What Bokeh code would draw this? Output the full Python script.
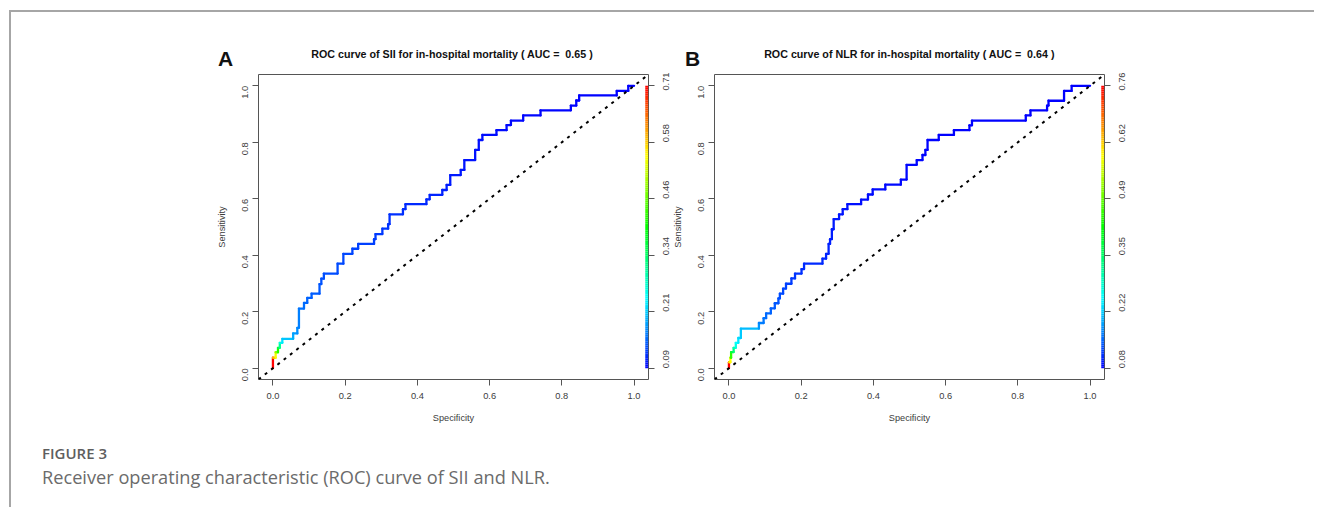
import colorsys
import numpy as np
from bokeh.plotting import figure
from bokeh.models import LinearAxis, FixedTicker, Range1d, Div, Slope, PrintfTickFormatter, ColumnDataSource
from bokeh.layouts import row, column
from bokeh.embed import file_html
from bokeh.resources import INLINE

# ---------------- data ----------------
spec_A = [0, 0, 0.0075, 0.0075, 0.014, 0.014, 0.019, 0.019, 0.026, 0.026,
          0.056, 0.056, 0.0675, 0.0675, 0.072, 0.072, 0.086, 0.086, 0.095, 0.095,
          0.107, 0.107, 0.129, 0.129, 0.134, 0.134, 0.141, 0.141, 0.179, 0.179,
          0.195, 0.195, 0.220, 0.220, 0.236, 0.236, 0.280, 0.280, 0.284, 0.284,
          0.303, 0.303, 0.319, 0.319, 0.323, 0.323, 0.360, 0.360, 0.367, 0.367,
          0.425, 0.425, 0.434, 0.434, 0.469, 0.469, 0.481, 0.481, 0.491, 0.491,
          0.520, 0.520, 0.530, 0.530, 0.560, 0.560, 0.570, 0.570, 0.580, 0.580,
          0.619, 0.619, 0.647, 0.647, 0.659, 0.659, 0.693, 0.693, 0.741, 0.741,
          0.825, 0.825, 0.840, 0.840, 0.848, 0.848, 0.952, 0.952, 0.984, 0.984, 1.0]
sens_A = [0, 0.037, 0.037, 0.0565, 0.0565, 0.072, 0.072, 0.090, 0.090, 0.104,
          0.104, 0.123, 0.123, 0.143, 0.143, 0.211, 0.211, 0.231, 0.231, 0.249,
          0.249, 0.264, 0.264, 0.298, 0.298, 0.317, 0.317, 0.335, 0.335, 0.370,
          0.370, 0.405, 0.405, 0.423, 0.423, 0.440, 0.440, 0.457, 0.457, 0.475,
          0.475, 0.494, 0.494, 0.510, 0.510, 0.545, 0.545, 0.563, 0.563, 0.581,
          0.581, 0.598, 0.598, 0.614, 0.614, 0.631, 0.631, 0.649, 0.649, 0.684,
          0.684, 0.702, 0.702, 0.737, 0.737, 0.773, 0.773, 0.808, 0.808, 0.826,
          0.826, 0.843, 0.843, 0.861, 0.861, 0.877, 0.877, 0.895, 0.895, 0.913,
          0.913, 0.930, 0.930, 0.948, 0.948, 0.966, 0.966, 0.982, 0.982, 1.0, 1.0]
cut_A = [0.71, 0.60, 0.55, 0.48, 0.42, 0.36, 0.31, 0.26, 0.23, 0.21,
         0.195, 0.185, 0.178, 0.172, 0.168, 0.160, 0.157, 0.154, 0.152, 0.150,
         0.148, 0.146, 0.144, 0.142, 0.140, 0.139, 0.138, 0.137, 0.136, 0.135,
         0.134, 0.133, 0.132, 0.131, 0.130, 0.129, 0.128, 0.127, 0.126, 0.125,
         0.124, 0.123, 0.122, 0.121, 0.120, 0.119, 0.118, 0.117, 0.116, 0.115,
         0.114, 0.113, 0.112, 0.111, 0.110, 0.109, 0.108, 0.107, 0.106, 0.105,
         0.104, 0.103, 0.102, 0.101, 0.100, 0.0995, 0.099, 0.0985, 0.098, 0.0975,
         0.097, 0.0965, 0.096, 0.0955, 0.095, 0.0945, 0.094, 0.0935, 0.093, 0.0925,
         0.092, 0.0918, 0.0916, 0.0914, 0.0912, 0.091, 0.0908, 0.0906, 0.0904, 0.0902, 0.09]

spec_B = [0, 0, 0.004, 0.004, 0.006, 0.006, 0.013, 0.013, 0.019, 0.019,
          0.026, 0.026, 0.033, 0.033, 0.083, 0.083, 0.096, 0.096, 0.103, 0.103,
          0.116, 0.116, 0.127, 0.127, 0.137, 0.137, 0.141, 0.141, 0.150, 0.150,
          0.158, 0.158, 0.173, 0.173, 0.183, 0.183, 0.201, 0.201, 0.208, 0.208,
          0.259, 0.259, 0.269, 0.269, 0.276, 0.276, 0.280, 0.280, 0.285, 0.285,
          0.290, 0.290, 0.305, 0.305, 0.315, 0.315, 0.328, 0.328, 0.366, 0.366,
          0.385, 0.385, 0.398, 0.398, 0.433, 0.433, 0.476, 0.476, 0.492, 0.492,
          0.520, 0.520, 0.536, 0.536, 0.544, 0.544, 0.550, 0.550, 0.581, 0.581,
          0.623, 0.623, 0.666, 0.666, 0.673, 0.673, 0.822, 0.822, 0.835, 0.835,
          0.881, 0.881, 0.885, 0.885, 0.928, 0.928, 0.949, 0.949, 1.0]
sens_B = [0, 0.021, 0.021, 0.037, 0.037, 0.057, 0.057, 0.072, 0.072, 0.090,
          0.090, 0.107, 0.107, 0.140, 0.140, 0.160, 0.160, 0.177, 0.177, 0.194,
          0.194, 0.212, 0.212, 0.230, 0.230, 0.247, 0.247, 0.264, 0.264, 0.282,
          0.282, 0.299, 0.299, 0.318, 0.318, 0.335, 0.335, 0.351, 0.351, 0.370,
          0.370, 0.388, 0.388, 0.405, 0.405, 0.440, 0.440, 0.457, 0.457, 0.492,
          0.492, 0.528, 0.528, 0.545, 0.545, 0.563, 0.563, 0.581, 0.581, 0.597,
          0.597, 0.615, 0.615, 0.633, 0.633, 0.650, 0.650, 0.668, 0.668, 0.720,
          0.720, 0.737, 0.737, 0.755, 0.755, 0.773, 0.773, 0.808, 0.808, 0.826,
          0.826, 0.843, 0.843, 0.860, 0.860, 0.877, 0.877, 0.895, 0.895, 0.913,
          0.913, 0.930, 0.930, 0.947, 0.947, 0.982, 0.982, 1.0, 1.0]
cut_B = [0.76, 0.62, 0.59, 0.50, 0.45, 0.38, 0.34, 0.30, 0.27, 0.25,
         0.235, 0.225, 0.215, 0.205, 0.18, 0.165, 0.16, 0.155, 0.152, 0.149,
         0.146, 0.143, 0.140, 0.138, 0.136, 0.134, 0.132, 0.130, 0.128, 0.126,
         0.124, 0.122, 0.120, 0.118, 0.116, 0.114, 0.112, 0.110, 0.109, 0.108,
         0.107, 0.106, 0.105, 0.104, 0.103, 0.102, 0.101, 0.100, 0.099, 0.098,
         0.097, 0.096, 0.095, 0.094, 0.093, 0.092, 0.091, 0.090, 0.0895, 0.089,
         0.0885, 0.088, 0.0875, 0.087, 0.0865, 0.086, 0.0855, 0.085, 0.0845, 0.084,
         0.0836, 0.0832, 0.0828, 0.0824, 0.082, 0.0818, 0.0816, 0.0814, 0.0812, 0.081,
         0.0809, 0.0808, 0.0807, 0.0806, 0.0805, 0.0804, 0.0803, 0.0802, 0.0801, 0.0801,
         0.0801, 0.0801, 0.08, 0.08, 0.08, 0.08, 0.08, 0.08, 0.08]

axis_ticks = [0.0, 0.2, 0.4, 0.6, 0.8, 1.0]
cb_labels_A = ["0.09", "0.21", "0.34", "0.46", "0.58", "0.71"]
cb_labels_B = ["0.08", "0.22", "0.35", "0.49", "0.62", "0.76"]
title_A = "ROC curve of SII for in-hospital mortality ( AUC =  0.65 )"
title_B = "ROC curve of NLR for in-hospital mortality ( AUC =  0.64 )"
caption_head = "FIGURE 3"
caption_text = "Receiver operating characteristic (ROC) curve of SII and NLR."

# ---------------- helpers ----------------
FONT = "Liberation Sans"
TXT = "#3c3c3c"


def rainbow(v):
    v = min(max(v, 0.0), 1.0)
    r, g, b = colorsys.hsv_to_rgb((1.0 - v) * 240.0 / 360.0, 1.0, 1.0)
    return "#%02x%02x%02x" % (int(round(r * 255)), int(round(g * 255)), int(round(b * 255)))


def make_panel(spec, sens, cut, cb_labels, ml, mr, transparent=False):
    p = figure(frame_width=390, frame_height=305,
               x_range=Range1d(-0.04, 1.04), y_range=Range1d(-0.04, 1.04),
               output_backend="svg", toolbar_location=None,
               min_border_left=ml, min_border_right=mr,
               min_border_top=2, min_border_bottom=50)
    p.xgrid.visible = False
    p.ygrid.visible = False
    p.outline_line_color = "#555555"
    p.outline_line_width = 1
    p.background_fill_color = "white"
    if transparent:
        p.border_fill_color = None
    else:
        p.border_fill_color = "white"

    def style_axis(ax):
        ax.ticker = FixedTicker(ticks=axis_ticks)
        ax.axis_line_color = None
        ax.major_tick_line_color = "#555555"
        ax.major_tick_out = 6
        ax.major_tick_in = 0
        ax.minor_tick_line_color = None
        ax.major_label_text_font = FONT
        ax.major_label_text_font_size = "9.3px"
        ax.major_label_text_color = TXT
        ax.axis_label_text_font = FONT
        ax.axis_label_text_font_size = "9.2px"
        ax.axis_label_text_font_style = "normal"
        ax.axis_label_text_color = TXT

    xa = p.xaxis[0]
    style_axis(xa)
    xa.formatter = PrintfTickFormatter(format="%.1f")
    xa.major_label_standoff = 7
    xa.axis_label = "Specificity"
    xa.axis_label_standoff = 11

    ya = p.yaxis[0]
    style_axis(ya)
    ya.formatter = PrintfTickFormatter(format="%.1f")
    ya.major_label_orientation = np.pi / 2
    ya.major_label_standoff = 7
    ya.axis_label = "Sensitivity"
    ya.axis_label_standoff = 10

    ra = LinearAxis()
    style_axis(ra)
    ra.major_label_orientation = np.pi / 2
    ra.major_label_standoff = 12
    ra.major_label_overrides = {t: lab for t, lab in zip(axis_ticks, cb_labels)}
    p.add_layout(ra, "right")

    # diagonal reference line
    p.add_layout(Slope(gradient=1, y_intercept=0, line_color="black",
                       line_width=2, line_dash="3 5"))

    # colour bar (rainbow gradient, low cutoff at bottom)
    n = 150
    edges = np.linspace(0.0, 1.0, n + 1)
    mids = 0.5 * (edges[:-1] + edges[1:])
    p.quad(left=1.031, right=1.0395, bottom=edges[:-1], top=edges[1:],
           fill_color=[rainbow(m) for m in mids], line_color=None)

    # ROC curve coloured by cutoff
    cmin, cmax = float(cb_labels[0]), float(cb_labels[-1])
    cols = [rainbow((c - cmin) / (cmax - cmin)) for c in cut[:-1]]
    src = ColumnDataSource(dict(x0=spec[:-1], y0=sens[:-1], x1=spec[1:], y1=sens[1:], c=cols))
    p.segment(x0="x0", y0="y0", x1="x1", y1="y1", line_color="c", line_width=2.3,
              line_cap="round", source=src)
    return p


pA = make_panel(spec_A, sens_A, cut_A, cb_labels_A, 247, 30)
pB = make_panel(spec_B, sens_B, cut_B, cb_labels_B, 50, 210, transparent=True)
pB.margin = (0, 0, 0, -14)


def span(txt, x, y, size, weight="bold"):
    return (f'<span style="position:absolute;left:{x}px;top:{y}px;transform:translate(-50%,-50%);'
            f'white-space:pre;line-height:1;font-family:\'Liberation Sans\';font-weight:{weight};'
            f'font-size:{size};color:#111;">{txt}</span>')


header = Div(text=(
    '<div style="position:relative;width:1303px;height:60px;">'
    + span("A", 214.7, 45.5, "21px")
    + span(title_A, 441, 41.8, "10.7px")
    + span("B", 681.7, 45.5, "21px")
    + span(title_B, 898.3, 41.8, "10.7px")
    + '</div>'), width=1303, height=60, margin=0)

cap = Div(text=(
    f'<div style="font-family:\'Open Sans\';font-weight:600;font-size:15px;color:#5e5e5e;'
    f'margin:15px 0 0 31px;line-height:18px;white-space:nowrap;">{caption_head}</div>'
    f'<div style="font-family:\'Open Sans\';font-weight:400;font-size:18.2px;color:#6b6b6b;'
    f'margin:4px 0 0 31px;line-height:22px;white-space:nowrap;">{caption_text}</div>'),
    width=1290, height=78, margin=0)

layout = column(header, row(pA, pB), cap, margin=(10, 0, 0, 9),
                styles={"border-top": "2px solid #a6a6a6", "border-left": "2px solid #a6a6a6"})

open("out.html", "w").write(file_html(layout, INLINE))
